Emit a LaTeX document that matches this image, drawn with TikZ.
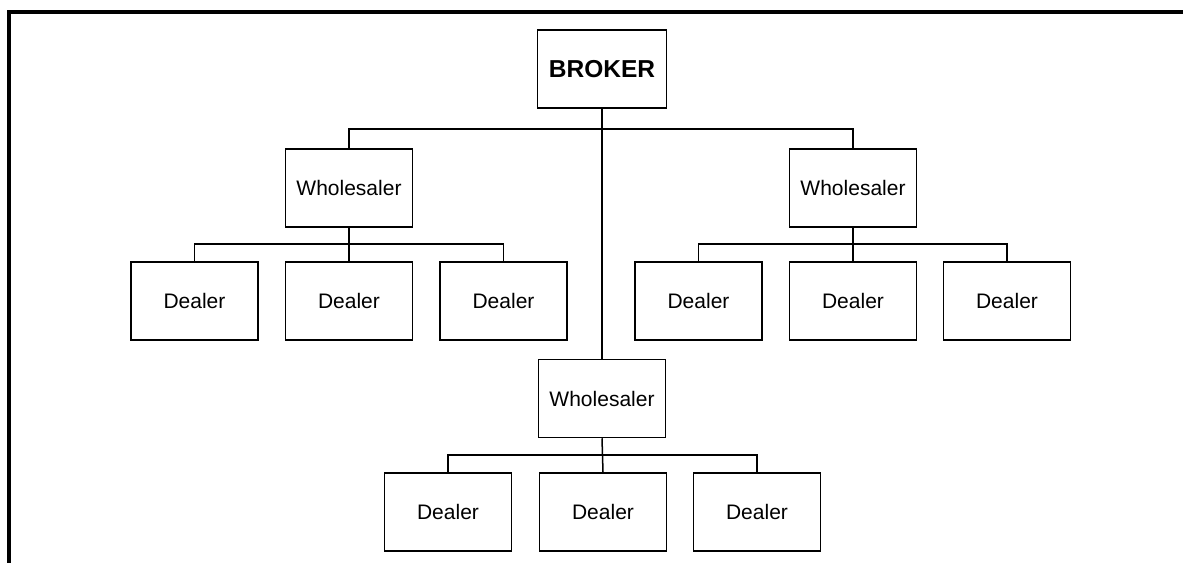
\documentclass[tikz,border=0pt]{standalone}
\usepackage{fontspec}
\setmainfont{Liberation Sans}
\begin{document}
\begin{tikzpicture}[x=1pt,y=-1pt,
  box/.style={draw=black, line width=1.5pt, minimum width=127pt, minimum height=78pt, inner sep=0pt, fill=white, font=\fontsize{21}{24}\selectfont},
  topbox/.style={box, minimum width=129pt, font=\fontsize{24.5}{28}\selectfont\bfseries},
  link/.style={draw=black, line width=1.5pt},
  frame/.style={draw=black, line width=4pt}]
\useasboundingbox (0,0) rectangle (1183,563);
% frame (top and left only)
\coordinate (fa) at (1183,12);
\coordinate (fb) at (9,12);
\coordinate (fc) at (9,563);
\draw[frame] (fa) -- (fb) -- (fc);
% nodes
\node[topbox] (broker) at (602,69) {BROKER};
\node[box] (wl) at (349,188) {Wholesaler};
\node[box] (wr) at (853,188) {Wholesaler};
\node[box] (wb) at (602,398.5) {Wholesaler};
\node[box] (d1) at (194.5,301) {Dealer};
\node[box] (d2) at (349,301) {Dealer};
\node[box] (d3) at (503.5,301) {Dealer};
\node[box] (d4) at (698.5,301) {Dealer};
\node[box] (d5) at (853,301) {Dealer};
\node[box] (d6) at (1007,301) {Dealer};
\node[box] (d7) at (448,512) {Dealer};
\node[box] (d8) at (603,512) {Dealer};
\node[box] (d9) at (757,512) {Dealer};
% connectors
\begin{scope}[on background layer/.style={}]
\draw[link] (broker.south) -- (wb.north);
\draw[link] (wl.north) |- (602,129) -| (wr.north);
\draw[link] (wl.south) -- (d2.north);
\draw[link] (d1.north) |- (349,244) -| (d3.north);
\draw[link] (wr.south) -- (d5.north);
\draw[link] (d4.north) |- (853,244) -| (d6.north);
\draw[link] (wb.south) -- (d8.north);
\draw[link] (d7.north) |- (603,455) -| (d9.north);
\end{scope}
\end{tikzpicture}
\end{document}
